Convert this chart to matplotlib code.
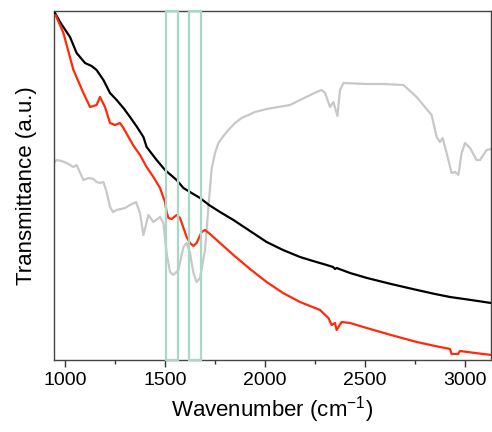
import matplotlib
matplotlib.use("Agg")
import matplotlib.pyplot as plt
from matplotlib.patches import Rectangle
from matplotlib.ticker import FixedLocator

plt.rcParams['font.family'] = ['Liberation Sans', 'DejaVu Sans']

black_x = [950, 975, 1025, 1058, 1100, 1133, 1158, 1192, 1225, 1258, 1292, 1325, 1360, 1392, 1408,
           1458, 1500, 1558, 1592, 1633, 1675, 1720, 1775, 1842, 1925, 2008, 2090, 2175, 2240, 2308,
           2340, 2350, 2358, 2425, 2510, 2630, 2760, 2850, 2925, 3030, 3130]
black_y = [347, 338, 323, 307, 297, 294, 290, 280, 267, 260, 252, 243, 233, 223, 213,
           200, 190, 180, 172, 167, 162, 155, 148, 140, 129, 118, 110, 103, 99, 95,
           93, 91, 92, 87, 82, 76, 70, 66, 63, 60, 57]

red_x = [953, 992, 1042, 1092, 1125, 1158, 1175, 1200, 1225, 1250, 1275, 1292, 1340, 1375, 1408,
         1442, 1475, 1500, 1508, 1517, 1533, 1558, 1575, 1608, 1625, 1642, 1658, 1683, 1700, 1725,
         1775, 1842, 1925, 2008, 2090, 2175, 2275, 2317, 2333, 2350, 2358, 2383, 2425, 2508, 2630,
         2758, 2850, 2925, 2933, 2965, 2975, 3050, 3133]
red_y = [345, 327, 290, 267, 253, 255, 263, 253, 237, 235, 237, 232, 215, 205, 193,
         183, 172, 158, 148, 142, 141, 145, 142, 123, 117, 114, 117, 128, 130, 126,
         117, 105, 91, 78, 67, 58, 50, 42, 35, 37, 30, 38, 37, 32, 25,
         18, 14, 11, 6, 6, 9, 7, 5]

gray_x = [950, 958, 983, 1008, 1025, 1042, 1058, 1092, 1117, 1142, 1158, 1175, 1192, 1208, 1225,
          1240, 1258, 1300, 1325, 1355, 1375, 1392, 1417, 1442, 1475, 1492, 1508, 1525, 1542, 1567,
          1592, 1608, 1625, 1642, 1658, 1675, 1700, 1717, 1733, 1750, 1767, 1792, 1817, 1850, 1883,
          1950, 2008, 2125, 2175, 2258, 2283, 2300, 2325, 2342, 2362, 2375, 2392, 2508, 2592, 2692,
          2758, 2833, 2858, 2875, 2888, 2908, 2933, 2950, 2967, 2983, 3000, 3025, 3058, 3075, 3108,
          3133]
gray_y = [198, 200, 199, 197, 195, 193, 195, 180, 182, 181, 178, 177, 178, 168, 153,
          148, 150, 152, 155, 158, 147, 125, 145, 138, 143, 137, 107, 88, 85, 90,
          113, 117, 107, 87, 78, 82, 110, 153, 191, 207, 217, 224, 230, 237, 242,
          248, 251, 255, 260, 268, 270, 267, 253, 258, 244, 270, 277, 276, 276, 275,
          263, 245, 223, 218, 222, 207, 187, 188, 185, 207, 217, 212, 200, 200, 210,
          211]

bands = [(1505, 1565), (1620, 1680)]
xticks = [1000, 1500, 2000, 2500, 3000]
xminor = [1250, 1750, 2250, 2750]

fig = plt.figure(figsize=(4.92, 4.32), dpi=100)
ax = fig.add_axes([0.1098, 0.1667, 0.8882, 0.8078])

kw = dict(lw=1.6, solid_joinstyle='round', solid_capstyle='round')
ax.plot(gray_x, gray_y, color='#c8c8c8', zorder=2, **kw)
ax.plot(black_x, black_y, color='black', zorder=3, **kw)
ax.plot(red_x, red_y, color='#ff2a0a', zorder=3, **kw)

for x0, x1 in bands:
    ax.add_patch(Rectangle((x0, 0), x1 - x0, 1, transform=ax.get_xaxis_transform(),
                           fill=False, edgecolor='#a6d9c6', lw=1.6, zorder=4, clip_on=False))

ax.set_xlim(945, 3130)
ax.set_ylim(0, 349)
ax.xaxis.set_major_locator(FixedLocator(xticks))
ax.xaxis.set_minor_locator(FixedLocator(xminor))
ax.tick_params(axis='x', which='major', direction='out', length=5, width=1, labelsize=14,
               colors='#333333', labelcolor='black')
ax.tick_params(axis='x', which='minor', direction='out', length=3, width=1, colors='#333333')
ax.set_yticks([])
for s in ax.spines.values():
    s.set_color('#444444')
    s.set_linewidth(1.0)

ax.set_xlabel('Wavenumber (cm$^{\\mathregular{-1}}$)', fontsize=16)
ax.set_ylabel('Transmittance (a.u.)', fontsize=16, labelpad=12)

fig.savefig('out.png', dpi=100)
